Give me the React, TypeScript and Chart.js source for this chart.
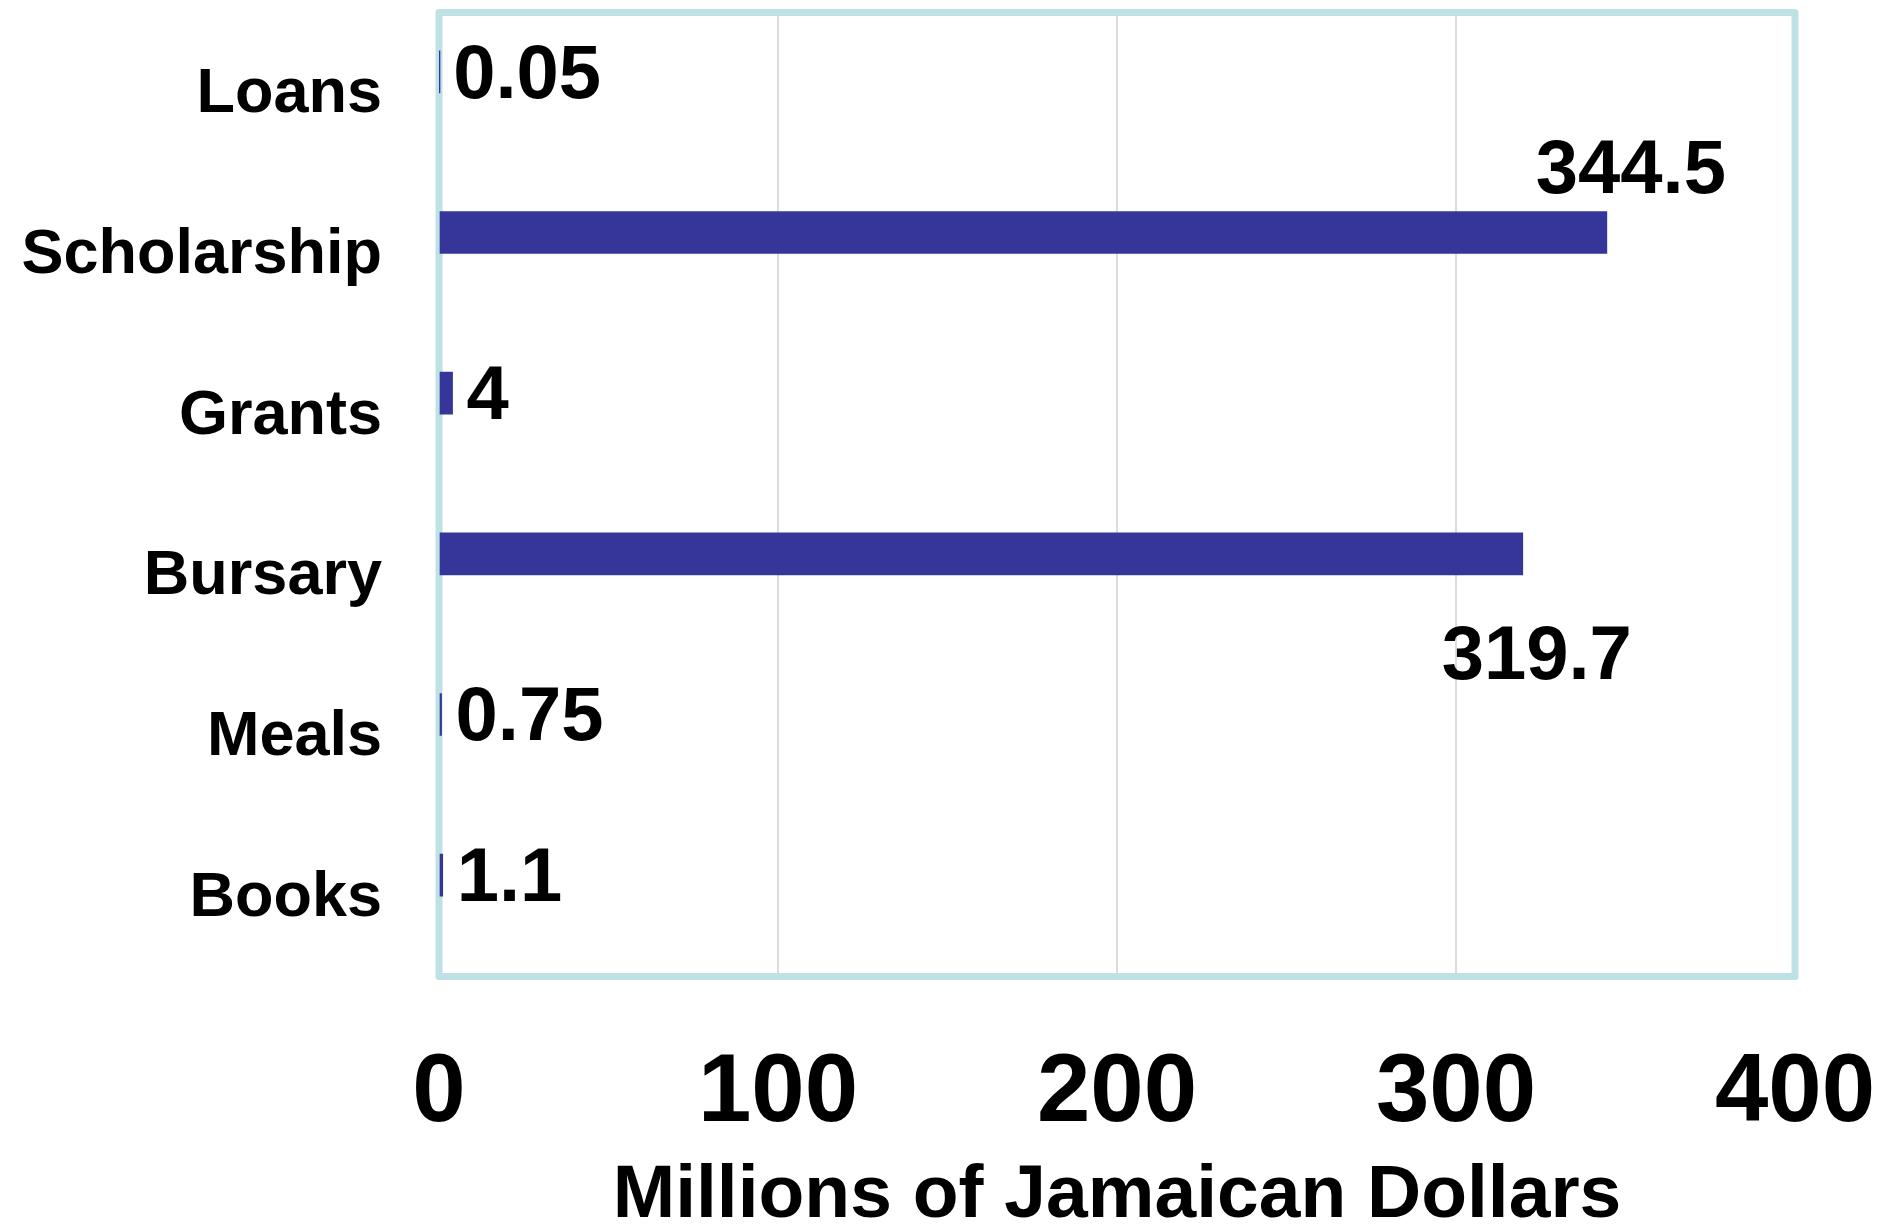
import React, { useEffect, useRef } from "react";
import { Chart, registerables } from "chart.js";

Chart.register(...registerables);

const categories = ["Loans", "Scholarship", "Grants", "Bursary", "Meals", "Books"];
const values = [0.05, 344.5, 4, 319.7, 0.75, 1.1];
// empty second series (as in the source chart, it reserves the lower half of each group)
const emptySeries = [null, null, null, null, null, null];
const valueLabels = ["0.05", "344.5", "4", "319.7", "0.75", "1.1"];
const xTickValues = [0, 100, 200, 300, 400];
const axisTitle = "Millions of Jamaican Dollars";

const FONT = "'Liberation Sans', Arial, Helvetica, sans-serif";
const BAR_COLOR = "#35359a";
const FRAME_COLOR = "#bde1e4";

// label placement relative to the bar end (x) and bar centre (y)
const labelPlacement = [
  { align: "left", dx: 14, dy: 5 },
  { align: "center", dx: 24, dy: -60 },
  { align: "left", dx: 14, dy: 5 },
  { align: "center", dx: 14, dy: 104 },
  { align: "left", dx: 14, dy: 5 },
  { align: "left", dx: 14, dy: 5 },
];

const framePlugin = {
  id: "frame",
  beforeDatasetsDraw(chart: any) {
    const { ctx, chartArea } = chart;
    ctx.save();
    ctx.strokeStyle = FRAME_COLOR;
    ctx.lineWidth = 7;
    ctx.lineJoin = "round";
    ctx.strokeRect(chartArea.left, chartArea.top, chartArea.right - chartArea.left, chartArea.bottom - chartArea.top);
    ctx.restore();
  },
};

const labelPlugin = {
  id: "valueLabels",
  afterDatasetsDraw(chart: any) {
    const { ctx } = chart;
    const meta = chart.getDatasetMeta(0);
    ctx.save();
    ctx.fillStyle = "#000";
    ctx.font = `bold 76px ${FONT}`;
    ctx.textBaseline = "middle";
    meta.data.forEach((bar: any, i: number) => {
      const p = labelPlacement[i];
      ctx.textAlign = p.align;
      ctx.fillText(valueLabels[i], bar.x + p.dx, bar.y + p.dy);
    });
    ctx.restore();
  },
};

export default function App() {
  const ref = useRef<HTMLCanvasElement>(null);
  useEffect(() => {
    if (!ref.current) return;
    const chart = new Chart(ref.current, {
      type: "bar",
      data: {
        labels: categories,
        datasets: [
          {
            data: values,
            backgroundColor: BAR_COLOR,
            borderWidth: 0,
            barThickness: 42,
          },
          {
            data: emptySeries,
            backgroundColor: BAR_COLOR,
            borderWidth: 0,
            barThickness: 42,
          },
        ],
      },
      options: {
        indexAxis: "y",
        responsive: false,
        animation: false,
        devicePixelRatio: 1,
        layout: { padding: { left: 0, right: 85, top: 12.5, bottom: 0 } },
        plugins: { legend: { display: false }, tooltip: { enabled: false } },
        scales: {
          x: {
            type: "linear",
            min: 0,
            max: 400,
            afterBuildTicks(scale: any) {
              scale.ticks = xTickValues.map((v) => ({ value: v }));
            },
            afterFit(scale: any) {
              scale.height = 249.5;
              scale.paddingLeft = 0;
              scale.paddingRight = 0;
            },
            grid: { color: "#dcdcdc", lineWidth: 2, drawTicks: false },
            border: { display: false },
            ticks: {
              color: "#000",
              font: { family: FONT, size: 96, weight: "bold" },
              padding: 60,
              maxRotation: 0,
            },
            title: {
              display: true,
              text: axisTitle,
              color: "#000",
              font: { family: FONT, size: 75, weight: "bold", lineHeight: 1 },
              padding: { top: 0, bottom: -8 },
            },
          },
          y: {
            type: "category",
            afterFit(scale: any) {
              scale.width = 439;
              scale.paddingTop = 0;
              scale.paddingBottom = 0;
            },
            grid: { display: false, drawTicks: false },
            border: { display: false },
            ticks: {
              color: "#000",
              font: { family: FONT, size: 63, weight: "bold" },
              padding: 57,
              labelOffset: 2,
            },
          },
        },
      },
      plugins: [framePlugin, labelPlugin],
    });
    return () => chart.destroy();
  }, []);
  return (
    <div style={{ position: "absolute", left: 0, top: 0, width: 1880, height: 1226, background: "#fff" }}>
      <canvas ref={ref} width={1880} height={1226} style={{ display: "block" }} />
    </div>
  );
}
